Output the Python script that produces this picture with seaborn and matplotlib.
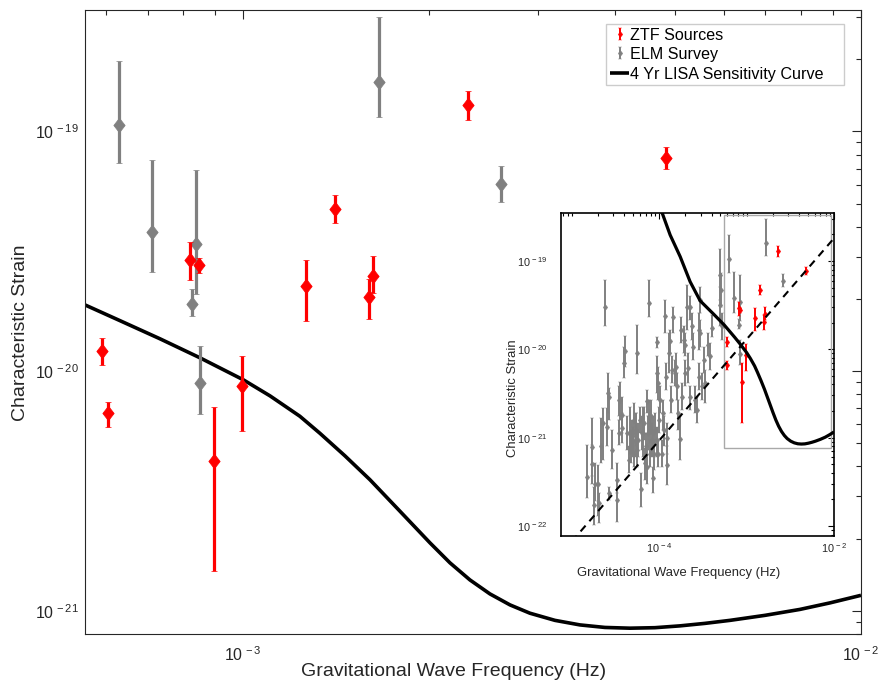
import numpy as np
import matplotlib
matplotlib.use("Agg")
import matplotlib.pyplot as plt
import matplotlib.ticker as mticker
from matplotlib.path import Path
from matplotlib.patches import Rectangle
from matplotlib.legend_handler import HandlerErrorbar
import seaborn as sns

# ---------------- data ----------------
# ZTF sources (frequency in Hz, characteristic strain, lower / upper error bar ends)
ztf_f = [5.91e-4, 6.03e-4, 8.20e-4, 8.49e-4, 8.96e-4, 9.94e-4, 1.262e-3, 1.408e-3, 1.596e-3, 1.623e-3, 2.308e-3, 4.83e-3]
ztf_h = [1.21e-20, 6.68e-21, 2.91e-20, 2.76e-20, 4.23e-21, 8.63e-21, 2.26e-20, 4.74e-20, 2.03e-20, 2.50e-20, 1.29e-19, 7.77e-20]
ztf_h_lo = [1.055e-20, 5.84e-21, 2.40e-20, 2.57e-20, 1.46e-21, 5.65e-21, 1.62e-20, 4.15e-20, 1.65e-20, 2.12e-20, 1.12e-19, 6.98e-20]
ztf_h_hi = [1.37e-20, 7.46e-21, 3.44e-20, 2.96e-20, 7.05e-21, 1.16e-20, 2.90e-20, 5.41e-20, 2.42e-20, 3.01e-20, 1.47e-19, 8.58e-20]

# ELM survey sources visible in the main panel
elm_f = [6.30e-4, 7.11e-4, 8.27e-4, 8.38e-4, 8.52e-4, 1.66e-3, 2.61e-3]
elm_h = [1.06e-19, 3.80e-20, 1.90e-20, 3.39e-20, 8.91e-21, 1.60e-19, 6.01e-20]
elm_h_lo = [7.35e-20, 2.58e-20, 1.69e-20, 2.09e-20, 6.64e-21, 1.15e-19, 5.09e-20]
elm_h_hi = [1.97e-19, 7.57e-20, 2.21e-20, 6.92e-20, 1.27e-20, 3.0e-19, 7.14e-20]

# further ELM survey sources (only in the inset), given as log10 values
elm_extra_logf = [
    -4.83, -4.77, -4.77, -4.75, -4.73, -4.70, -4.69, -4.67, -4.64, -4.62,
    -4.60, -4.58, -4.57, -4.57, -4.54, -4.48, -4.48, -4.46, -4.45, -4.43,
    -4.42, -4.40, -4.39, -4.33, -4.32, -4.31, -4.29, -4.27, -4.255, -4.25,
    -4.22, -4.21, -4.18, -4.16, -4.14, -4.12, -4.12, -4.10, -4.08, -4.065,
    -4.05, -4.03, -4.02, -4.01, -4.01, -3.99, -3.96, -3.93, -3.92, -3.91,
    -3.905, -3.89, -3.88, -3.855, -3.84, -3.82, -3.81, -3.80, -3.76, -3.75,
    -3.74, -3.72, -3.71, -3.68, -3.665, -3.65, -3.645, -3.61, -3.59, -3.57,
    -3.55, -3.54, -3.53, -3.53, -3.51, -3.47, -3.44, -3.42, -3.40, -3.30,
    -3.30, -3.28, -3.295, -4.30, -4.285, -4.26, -4.24, -4.20, -4.17, -4.15,
    -4.13, -4.11, -4.095, -4.07, -4.06, -4.027, -4.00, -3.97, -3.95, -4.46,
    -4.37, -4.35, -4.14, -3.87, -3.78, -3.70, -3.63, -3.49]
elm_extra_logh = [
    -21.45, -21.11, -21.30, -21.76, -21.52, -21.52, -21.74, -21.09, -20.84, -19.52,
    -20.875, -20.49, -20.54, -21.63, -21.14, -21.71, -21.48, -20.95, -20.57, -20.74,
    -20.89, -20.15, -20.02, -20.95, -21.10, -20.99, -20.80, -20.95, -20.04, -21.14,
    -20.80, -21.58, -20.95, -21.29, -20.59, -19.48, -20.76, -20.875, -21.03, -21.46,
    -20.91, -20.27, -19.92, -20.385, -21.18, -20.57, -20.72, -19.62, -20.31, -21.31,
    -21.00, -20.045, -19.91, -20.23, -19.63, -20.27, -20.20, -20.42, -21.015, -19.78,
    -20.54, -19.89, -19.95, -19.52, -20.215, -20.54, -19.52, -19.97, -20.57, -20.69,
    -19.78, -20.31, -19.44, -19.82, -20.42, -20.385, -19.95, -20.08, -19.755, -19.16,
    -19.50, -19.74, -19.33, -21.03, -21.18, -20.91, -21.03, -20.95, -20.84, -21.10,
    -20.95, -21.18, -20.76, -20.95, -21.18, -21.03, -20.80, -21.18, -20.91, -20.57,
    -20.95, -21.25, -21.33, -20.57, -20.72, -20.27, -19.74, -20.12]
elm_extra_logh_hi = [
    -21.08, -20.78, -21.08, -21.555, -21.29, -21.31, -21.63, -20.78, -20.67, -19.22,
    -20.67, -20.27, -20.44, -21.555, -20.91, -21.48, -21.29, -20.80, -20.37, -20.54,
    -20.72, -19.97, -19.845, -20.65, -20.91, -20.80, -20.61, -20.72, -19.73, -20.95,
    -20.65, -21.40, -20.65, -21.12, -20.46, -19.22, -20.57, -20.69, -20.84, -21.33,
    -20.72, -20.08, -19.86, -20.20, -21.03, -20.42, -20.57, -19.44, -20.16, -21.10,
    -20.84, -19.82, -19.78, -20.08, -19.52, -20.12, -20.045, -20.27, -20.76, -19.63,
    -20.385, -19.74, -19.82, -19.27, -20.045, -20.42, -19.40, -19.82, -20.42, -20.54,
    -19.59, -20.16, -19.29, -19.67, -20.27, -20.23, -19.82, -19.93, -19.61, -18.86,
    -19.29, -19.59, -19.14, -20.875, -21.03, -20.72, -20.84, -20.76, -20.65, -20.95,
    -20.76, -21.03, -20.57, -20.76, -21.03, -20.875, -20.65, -21.03, -20.76, -20.42,
    -20.76, -21.10, -21.14, -20.42, -20.57, -20.12, -19.59, -19.97]
elm_extra_logh_lo = [
    -21.68, -21.44, -21.52, -21.99, -21.72, -21.89, -21.97, -21.29, -21.25, -19.74,
    -21.10, -20.72, -20.80, -21.71, -21.35, -21.96, -21.63, -21.08, -20.80, -20.95,
    -21.06, -20.32, -20.20, -21.18, -21.29, -21.18, -20.99, -21.215, -20.28, -21.33,
    -20.95, -21.78, -21.215, -21.48, -20.72, -19.63, -20.95, -21.06, -21.215, -21.63,
    -21.10, -20.50, -19.99, -20.57, -21.33, -20.72, -20.91, -19.82, -20.46, -21.54,
    -21.18, -20.27, -20.045, -20.385, -19.82, -20.42, -20.35, -20.57, -21.25, -19.93,
    -20.69, -20.045, -20.08, -19.78, -20.385, -20.69, -19.67, -20.12, -20.72, -20.84,
    -20.01, -20.46, -19.59, -19.97, -20.57, -20.61, -20.08, -20.23, -19.86, -19.44,
    -19.74, -19.89, -19.52, -21.215, -21.33, -21.10, -21.215, -21.14, -21.03, -21.25,
    -21.14, -21.33, -20.95, -21.14, -21.37, -21.215, -20.95, -21.33, -21.10, -20.76,
    -21.14, -21.40, -21.52, -20.72, -20.91, -20.42, -19.89, -20.27]

# 4 yr LISA sensitivity curve
lisa_f = [1.0e-4, 1.08e-4, 1.336e-4, 1.74e-4, 2.26e-4, 2.94e-4, 4.2e-4, 5.55e-4, 6.32e-4,
          7.33e-4, 8.51e-4, 1.0e-3, 1.105e-3, 1.235e-3, 1.331e-3, 1.461e-3, 1.604e-3,
          1.794e-3, 2.006e-3, 2.161e-3, 2.328e-3, 2.508e-3, 2.703e-3, 2.911e-3, 3.196e-3,
          3.508e-3, 3.851e-3, 4.227e-3, 4.639e-3, 5.093e-3, 5.591e-3, 6.137e-3, 6.992e-3,
          7.963e-3, 8.913e-3, 1.0e-2]
lisa_h = [4.3e-19, 3.52e-19, 1.97e-19, 1.12e-19, 5.83e-20, 3.55e-20, 2.5e-20, 1.886e-20, 1.622e-20,
          1.364e-20, 1.136e-20, 9.20e-21, 7.88e-21, 6.48e-21, 5.50e-21, 4.43e-21, 3.52e-21,
          2.60e-21, 1.92e-21, 1.585e-21, 1.345e-21, 1.176e-21, 1.058e-21, 9.77e-22, 9.12e-22,
          8.73e-22, 8.52e-22, 8.46e-22, 8.50e-22, 8.65e-22, 8.86e-22, 9.12e-22, 9.57e-22,
          1.013e-21, 1.079e-21, 1.160e-21]

# dashed power-law line in the inset
powerlaw_f = [1.0e-5, 1.0e-2]
powerlaw_h = [6.65e-23, 1.81e-19]

# zoom box drawn in the inset (main-panel range)
box_f = [5.5e-4, 9.2e-3]
box_h = [7.6e-22, 3.3e-19]

# axis ranges
main_xlim = (5.55e-4, 1.0e-2)
main_ylim = (8.0e-22, 3.2e-19)
inset_xlim = (7.6e-6, 1.0e-2)
inset_ylim = (7.7e-23, 3.52e-19)

labels = ["ZTF Sources", "ELM Survey", "4 Yr LISA Sensitivity Curve"]
xlabel = "Gravitational Wave Frequency (Hz)"
ylabel = "Characteristic Strain"

# ---------------- style ----------------
sns.set_style("white")
plt.rcParams["font.family"] = ["Liberation Sans", "DejaVu Sans"]
plt.rcParams["mathtext.fontset"] = "custom"
plt.rcParams["mathtext.rm"] = "Liberation Sans"
plt.rcParams["mathtext.it"] = "Liberation Sans:italic"
plt.rcParams["mathtext.bf"] = "Liberation Sans:bold"
plt.rcParams["lines.scale_dashes"] = False
plt.rcParams["lines.solid_joinstyle"] = "round"
plt.rcParams["lines.solid_capstyle"] = "butt"

TXT = "#262626"
RED = "#ff0000"
GRAY = "#808080"

diamond = Path([(0, 1), (0.78, 0), (0, -1), (-0.78, 0), (0, 1)],
               [Path.MOVETO, Path.LINETO, Path.LINETO, Path.LINETO, Path.CLOSEPOLY])


def pow_label(v, pos=None):
    e = int(round(np.log10(v)))
    return r"$\mathregular{10^{\,%d}}$" % e


fig = plt.figure(figsize=(8.79, 6.86), dpi=100)
fig.patch.set_facecolor("white")

# ---------------- main axes ----------------
ax = fig.add_axes([0.0970, 0.0758, 0.8825, 0.9092])
ax.set_xscale("log")
ax.set_yscale("log")

sns.lineplot(x=lisa_f, y=lisa_h, ax=ax, color="black", linewidth=2.6,
             estimator=None, sort=True, zorder=2)

ef = np.array(elm_f); eh = np.array(elm_h)
ax.errorbar(ef, eh, yerr=[eh - np.array(elm_h_lo), np.array(elm_h_hi) - eh],
            linestyle="none", marker=diamond, ms=10.5, mfc=GRAY, mec=GRAY, mew=0.5,
            ecolor=GRAY, elinewidth=2.3, capsize=1.9, capthick=1.6, zorder=3)
zf = np.array(ztf_f); zh = np.array(ztf_h)
ax.errorbar(zf, zh, yerr=[zh - np.array(ztf_h_lo), np.array(ztf_h_hi) - zh],
            linestyle="none", marker=diamond, ms=10.5, mfc=RED, mec=RED, mew=0.5,
            ecolor=RED, elinewidth=2.3, capsize=1.9, capthick=1.6, zorder=4)

ax.set_xlim(*main_xlim)
ax.set_ylim(*main_ylim)
ax.xaxis.set_major_locator(mticker.FixedLocator([1e-3, 1e-2]))
ax.xaxis.set_major_formatter(mticker.FuncFormatter(pow_label))
ax.xaxis.set_minor_locator(mticker.LogLocator(base=10, subs=np.arange(2, 10)))
ax.xaxis.set_minor_formatter(mticker.NullFormatter())
ax.yaxis.set_major_locator(mticker.FixedLocator([1e-21, 1e-20, 1e-19]))
ax.yaxis.set_major_formatter(mticker.FuncFormatter(pow_label))
ax.yaxis.set_minor_locator(mticker.LogLocator(base=10, subs=np.arange(2, 10)))
ax.yaxis.set_minor_formatter(mticker.NullFormatter())
ax.tick_params(which="both", direction="in", top=True, right=True, colors=TXT,
               labelcolor=TXT, width=0.8)
ax.tick_params(which="major", length=6.3, labelsize=11.5)
ax.tick_params(axis="x", which="major", pad=8)
ax.tick_params(axis="y", which="major", pad=5)
ax.tick_params(which="minor", length=3.4)
for s in ax.spines.values():
    s.set_color(TXT)
    s.set_linewidth(0.8)

ax.set_xlabel(xlabel, fontsize=14, color=TXT, va="center")
ax.xaxis.set_label_coords(0.4744, -0.0604)
ax.set_ylabel(ylabel, fontsize=14, color=TXT, va="center")
ax.yaxis.set_label_coords(-0.0835, 0.4826)

# ---------------- inset ----------------
axi = fig.add_axes([0.6386, 0.2187, 0.3102, 0.4712])
axi.set_xscale("log")
axi.set_yscale("log")

xf = 10.0 ** np.array(elm_extra_logf)
xh = 10.0 ** np.array(elm_extra_logh)
xlo = 10.0 ** np.array(elm_extra_logh_lo)
xhi = 10.0 ** np.array(elm_extra_logh_hi)
all_f = np.concatenate([xf, ef])
all_h = np.concatenate([xh, eh])
all_lo = np.concatenate([xlo, np.array(elm_h_lo)])
all_hi = np.concatenate([xhi, np.array(elm_h_hi)])

elm_in = axi.errorbar(all_f, all_h, yerr=[all_h - all_lo, all_hi - all_h],
                      linestyle="none", marker=diamond, ms=4.2, mfc=GRAY, mec=GRAY, mew=0.3,
                      ecolor=GRAY, elinewidth=1.4, capsize=1.7, capthick=1.1, zorder=3)
ztf_in = axi.errorbar(zf, zh, yerr=[zh - np.array(ztf_h_lo), np.array(ztf_h_hi) - zh],
                      linestyle="none", marker=diamond, ms=4.2, mfc=RED, mec=RED, mew=0.3,
                      ecolor=RED, elinewidth=1.4, capsize=1.7, capthick=1.1, zorder=4)

sns.lineplot(x=lisa_f, y=lisa_h, ax=axi, color="black", linewidth=2.3,
             estimator=None, sort=True, zorder=5)
sns.lineplot(x=powerlaw_f, y=powerlaw_h, ax=axi, color="black", linewidth=1.5,
             linestyle=(0, (5.5, 4.2)), estimator=None, sort=True, zorder=5)

axi.add_patch(Rectangle((box_f[0], box_h[0]), box_f[1] - box_f[0], box_h[1] - box_h[0],
                        fill=False, edgecolor="#a9a9a9", linewidth=1.0, zorder=2))

axi.set_xlim(*inset_xlim)
axi.set_ylim(*inset_ylim)
axi.xaxis.set_major_locator(mticker.FixedLocator([1e-4, 1e-2]))
axi.xaxis.set_major_formatter(mticker.FuncFormatter(pow_label))
minor_x = [n * 10.0 ** k for k in range(-6, -1) for n in range(1, 10)
           if not (n == 1 and k in (-4, -2))]
axi.xaxis.set_minor_locator(mticker.FixedLocator(minor_x))
axi.xaxis.set_minor_formatter(mticker.NullFormatter())
axi.yaxis.set_major_locator(mticker.FixedLocator([1e-22, 1e-21, 1e-20, 1e-19]))
axi.yaxis.set_major_formatter(mticker.FuncFormatter(pow_label))
axi.yaxis.set_minor_locator(mticker.LogLocator(base=10, subs=np.arange(2, 10)))
axi.yaxis.set_minor_formatter(mticker.NullFormatter())
axi.tick_params(which="both", direction="in", top=True, right=True, colors="black",
                labelcolor=TXT, width=0.8)
axi.tick_params(which="major", length=4.0, labelsize=7.8)
axi.tick_params(axis="x", which="major", pad=4)
axi.tick_params(axis="y", which="major", pad=10)
axi.tick_params(which="minor", length=2.2)
for s in axi.spines.values():
    s.set_color("black")
    s.set_linewidth(1.2)
axi.set_xlabel(xlabel, fontsize=9.4, color=TXT, va="center")
axi.xaxis.set_label_coords(0.432, -0.114)
axi.set_ylabel(ylabel, fontsize=9.4, color=TXT, va="center")
axi.yaxis.set_label_coords(-0.176, 0.427)

# ---------------- legend ----------------
lisa_line = ax.get_lines()[0]
leg = ax.legend([ztf_in, elm_in, lisa_line], labels,
                loc="upper left", bbox_to_anchor=(0.6717, 0.878, 0.3068, 0.1),
                mode="expand", borderaxespad=0, fontsize=11.6, frameon=True,
                fancybox=False, borderpad=0.22, labelspacing=0.28, handlelength=1.2,
                handletextpad=0.08,
                handler_map={type(ztf_in): HandlerErrorbar(xerr_size=0.37)})
leg.get_frame().set_edgecolor("#c0c0c0")
leg.get_frame().set_linewidth(1.0)
for t in leg.get_texts():
    t.set_color("black")
leg.set_zorder(10)

fig.savefig("out.png", dpi=100, facecolor="white")
